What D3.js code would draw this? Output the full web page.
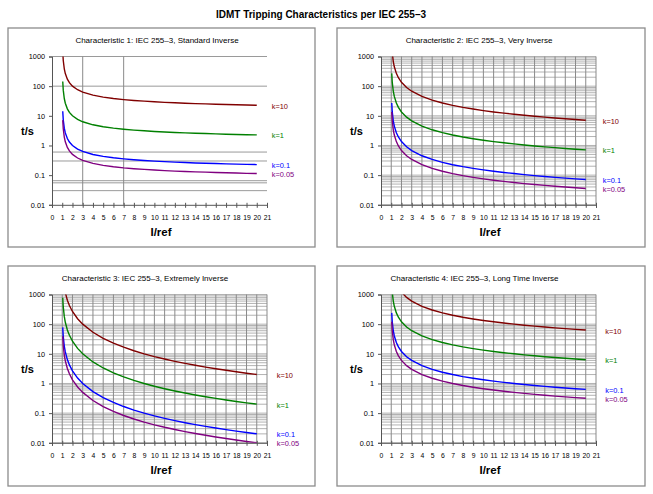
<!DOCTYPE html>
<html><head><meta charset="utf-8">
<script src="https://cdn.jsdelivr.net/npm/d3@7/dist/d3.min.js"></script>
<style>
body{margin:0;background:#fff}
svg{display:block;font-family:"Liberation Sans",Arial,Helvetica,sans-serif}
</style>
</head><body>
<svg id="chart" width="653" height="494"></svg>
<script>
// ---------------- data ----------------
const mainTitle = "IDMT Tripping Characteristics per IEC 255\u20133";
const panelTitles = [
  "Characteristic 1: IEC 255\u20133, Standard Inverse",
  "Characteristic 2: IEC 255\u20133, Very Inverse",
  "Characteristic 3: IEC 255\u20133, Extremely Inverse",
  "Characteristic 4: IEC 255\u20133, Long Time Inverse"
];
const xTickLabels = [0,1,2,3,4,5,6,7,8,9,10,11,12,13,14,15,16,17,18,19,20,21];
const yTickLabels = ["1000","100","10","1","0.1","0.01"];
const yTickValues = [1000,100,10,1,0.1,0.01];
const seriesNames = ["k=10","k=1","k=0.1","k=0.05"];
const seriesColors = ["#800000","#008000","#0000ff","#800080"];

// current ratio I/Iref
const currentRatio = [1.05,1.1,1.2,1.3,1.5,1.7,2,2.5,3,4,5,6,7,8,9,10,11,12,13,14,15,16,17,18,19,20];

// Characteristic 1: Standard Inverse (t/s)
const standardK10  = [1434,734,383,266,172,131,100,75.7,63.0,49.8,42.8,38.4,35.3,33.0,31.2,29.7,28.5,27.5,26.6,25.8,25.2,24.6,24.0,23.5,23.1,22.7];
const standardK1   = [143,73.4,38.3,26.6,17.2,13.1,10.0,7.57,6.30,4.98,4.28,3.84,3.53,3.30,3.12,2.97,2.85,2.75,2.66,2.58,2.52,2.46,2.40,2.35,2.31,2.27];
const standardK01  = [14.3,7.34,3.83,2.66,1.72,1.31,1.00,0.757,0.630,0.498,0.428,0.384,0.353,0.330,0.312,0.297,0.285,0.275,0.266,0.258,0.252,0.246,0.240,0.235,0.231,0.227];
const standardK005 = [7.17,3.67,1.92,1.33,0.86,0.656,0.501,0.378,0.315,0.249,0.214,0.192,0.176,0.165,0.156,0.149,0.142,0.137,0.133,0.129,0.126,0.123,0.120,0.118,0.115,0.113];

// Characteristic 2: Very Inverse
const veryK10  = [2700,1350,675,450,270,193,135,90,67.5,45,33.8,27,22.5,19.3,16.9,15,13.5,12.3,11.3,10.4,9.64,9.0,8.44,7.94,7.5,7.11];
const veryK1   = [270,135,67.5,45,27,19.3,13.5,9.0,6.75,4.5,3.38,2.7,2.25,1.93,1.69,1.5,1.35,1.23,1.13,1.04,0.964,0.9,0.844,0.794,0.75,0.711];
const veryK01  = [27,13.5,6.75,4.5,2.7,1.93,1.35,0.9,0.675,0.45,0.338,0.27,0.225,0.193,0.169,0.15,0.135,0.123,0.113,0.104,0.0964,0.09,0.0844,0.0794,0.075,0.0711];
const veryK005 = [13.5,6.75,3.38,2.25,1.35,0.964,0.675,0.45,0.338,0.225,0.169,0.135,0.113,0.0964,0.0844,0.075,0.0675,0.0614,0.0563,0.0519,0.0482,0.045,0.0422,0.0397,0.0375,0.0355];

// Characteristic 3: Extremely Inverse
const extremeK10  = [7800,3810,1820,1160,640,423,267,152,100,53.3,33.3,22.9,16.7,12.7,10.0,8.08,6.67,5.59,4.76,4.10,3.57,3.14,2.78,2.48,2.22,2.01];
const extremeK1   = [780,381,182,116,64.0,42.3,26.7,15.2,10.0,5.33,3.33,2.29,1.67,1.27,1.00,0.808,0.667,0.559,0.476,0.410,0.357,0.314,0.278,0.248,0.222,0.201];
const extremeK01  = [78.0,38.1,18.2,11.6,6.40,4.23,2.67,1.52,1.00,0.533,0.333,0.229,0.167,0.127,0.100,0.0808,0.0667,0.0559,0.0476,0.0410,0.0357,0.0314,0.0278,0.0248,0.0222,0.0201];
const extremeK005 = [39.0,19.0,9.09,5.80,3.20,2.12,1.33,0.762,0.500,0.267,0.167,0.114,0.0833,0.0635,0.0500,0.0404,0.0333,0.0280,0.0238,0.0205,0.0179,0.0157,0.0139,0.0124,0.0111,0.0100];

// Characteristic 4: Long Time Inverse
const longK10  = [24000,12000,6000,4000,2400,1710,1200,800,600,400,300,240,200,171,150,133,120,109,100,92.3,85.7,80.0,75.0,70.6,66.7,63.2];
const longK1   = [2400,1200,600,400,240,171,120,80.0,60.0,40.0,30.0,24.0,20.0,17.1,15.0,13.3,12.0,10.9,10.0,9.23,8.57,8.00,7.50,7.06,6.67,6.32];
const longK01  = [240,120,60.0,40.0,24.0,17.1,12.0,8.00,6.00,4.00,3.00,2.40,2.00,1.71,1.50,1.33,1.20,1.09,1.00,0.923,0.857,0.800,0.750,0.706,0.667,0.632];
const longK005 = [120,60.0,30.0,20.0,12.0,8.57,6.00,4.00,3.00,2.00,1.50,1.20,1.00,0.857,0.750,0.667,0.600,0.545,0.500,0.462,0.429,0.400,0.375,0.353,0.333,0.316];

// gridlines of chart 1 (as in the original sheet)
const chart1GridY = [1000,100,0.6,0.3,0.065,0.055,0.03];
const chart1GridX = [3,7];

// ---------------- layout ----------------
const panelBoxes = [
  {x:8,   y:28,  w:307, h:219, titleX:149, labelDx:15},
  {x:337, y:28,  w:308, h:219, titleX:142, labelDx:17},
  {x:8,   y:266, w:307, h:220, titleX:137, labelDx:20},
  {x:337, y:266, w:308, h:220, titleX:137.5, labelDx:19.5}
];
const panelSeries = [
  [standardK10,standardK1,standardK01,standardK005],
  [veryK10,veryK1,veryK01,veryK005],
  [extremeK10,extremeK1,extremeK01,extremeK005],
  [longK10,longK1,longK01,longK005]
];
const plotL = 44, plotR = 259, plotT = 28.5, plotB = 176.8;

const svg = d3.select("#chart");

svg.append("text").attr("x",321).attr("y",15).attr("text-anchor","middle")
  .attr("dominant-baseline","middle").attr("font-size","10px").attr("font-weight","bold")
  .attr("fill","#000").text(mainTitle);

const xScale = d3.scaleLinear().domain([0,21]).range([plotL,plotR]);
const yScale = d3.scaleLog().domain([0.01,1000]).range([plotB,plotT]);

panelBoxes.forEach((box,pi)=>{
  const g = svg.append("g").attr("transform",`translate(${box.x},${box.y})`);
  g.append("rect").attr("x",0).attr("y",0).attr("width",box.w).attr("height",box.h)
    .attr("fill","#fff").attr("stroke","#8c8c8c").attr("stroke-width",1.3);

  g.append("text").attr("x",box.titleX).attr("y",12.7).attr("text-anchor","middle")
    .attr("dominant-baseline","middle").attr("font-size","8px").attr("fill","#000")
    .text(panelTitles[pi]);

  // grid
  const grid = g.append("g");
  let gy, gx;
  if (pi===0) { gy = chart1GridY; gx = chart1GridX; }
  else {
    gy = [];
    for (let e=-2; e<3; e++) for (let m=1; m<10; m++) gy.push(m*Math.pow(10,e));
    gy.push(1000);
    gx = xTickLabels.filter(v=>v>=1);
  }
  grid.selectAll("line.h").data(gy).enter().append("line")
    .attr("x1",xScale(0)).attr("x2",xScale(21))
    .attr("y1",d=>yScale(d)).attr("y2",d=>yScale(d))
    .attr("stroke", pi===0 ? "#9a9a9a" : "#b2b2b2").attr("stroke-width",1);
  grid.selectAll("line.v").data(gx).enter().append("line")
    .attr("x1",d=>xScale(d)).attr("x2",d=>xScale(d))
    .attr("y1",yScale(1000)).attr("y2",yScale(0.01))
    .attr("stroke","#8a8a8a").attr("stroke-width",1);

  // axes
  const yAxis = d3.axisLeft(yScale).tickValues(yTickValues)
    .tickFormat((d,i)=>yTickLabels[i]).tickSize(3).tickPadding(4);
  const ya = g.append("g").attr("transform",`translate(${plotL},0)`).call(yAxis);
  const xAxis = d3.axisBottom(xScale).tickValues(xTickLabels).tickFormat(d=>String(d))
    .tickSize(3).tickPadding(7);
  const xa = g.append("g").attr("transform",`translate(0,${plotB})`).call(xAxis);
  [ya,xa].forEach(a=>{
    a.select(".domain").attr("stroke","#555").attr("stroke-width",1);
    a.selectAll(".tick line").attr("stroke","#555");
    a.selectAll("text").attr("font-family","'Liberation Sans',Arial,sans-serif").attr("fill","#000");
  });
  ya.selectAll("text").attr("font-size","7.3px");
  xa.selectAll("text").attr("font-size","6.8px");
  xa.selectAll(".tick line").attr("y1",-2);

  // axis titles
  g.append("text").attr("x",19.5).attr("y",plotT+76).attr("text-anchor","middle")
    .attr("dominant-baseline","middle").attr("font-size","11px").attr("font-weight","bold")
    .text("t/s");
  g.append("text").attr("x",(plotL+plotR)/2+1.5).attr("y",plotB+28.5).attr("text-anchor","middle")
    .attr("dominant-baseline","middle").attr("font-size","11.5px").attr("font-weight","bold")
    .text("I/ref");

  // curves
  const clipId = "clip"+pi;
  g.append("clipPath").attr("id",clipId).append("rect")
    .attr("x",plotL).attr("y",plotT).attr("width",plotR-plotL).attr("height",plotB-plotT);
  const line = d3.line().x((d,i)=>xScale(currentRatio[i])).y(d=>yScale(d));
  const curves = g.append("g").attr("clip-path",`url(#${clipId})`);
  panelSeries[pi].forEach((vals,si)=>{
    curves.append("path").attr("d",line(vals)).attr("fill","none")
      .attr("stroke",seriesColors[si]).attr("stroke-width",1.4);
  });

  // series labels
  let prev = -1e9;
  panelSeries[pi].forEach((vals,si)=>{
    let ly = yScale(vals[vals.length-1]) + 1.5;
    if (ly < prev + 8) ly = prev + 8;
    prev = ly;
    g.append("text").attr("x",xScale(20)+box.labelDx).attr("y",ly)
      .attr("dominant-baseline","middle").attr("font-size","7.4px")
      .attr("fill",seriesColors[si]).text(seriesNames[si]);
  });
});
</script>
</body></html>
